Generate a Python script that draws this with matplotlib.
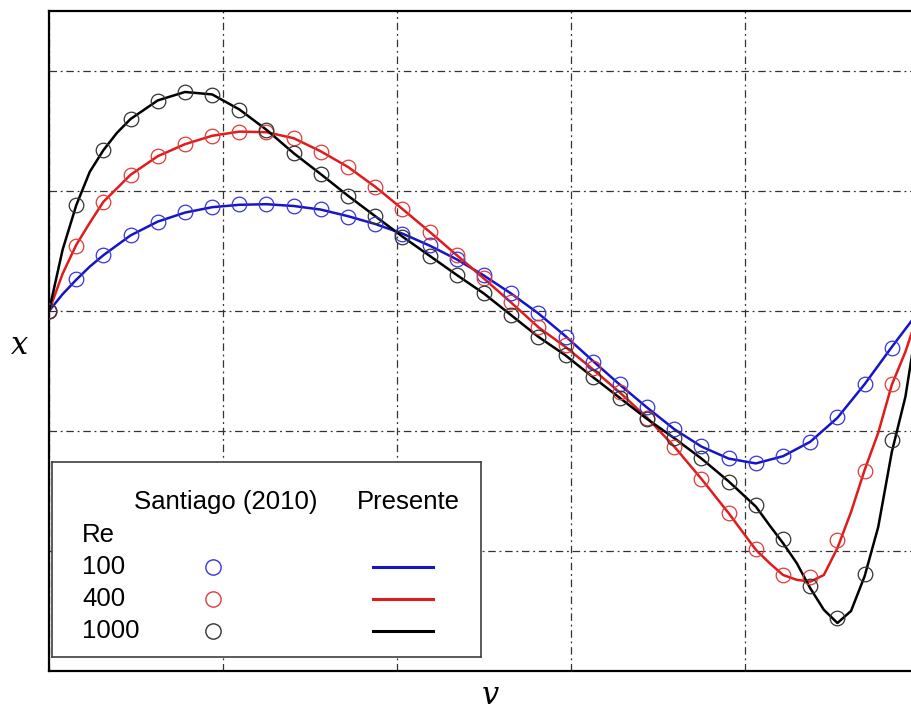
import numpy as np
import matplotlib
matplotlib.use('Agg')
import matplotlib.pyplot as plt

# horizontal positions of the Santiago points (33 stations across the cavity)
x_pts = np.arange(33) / 32.0

# Santiago (2010) reference points
santiago_re100 = [0.0, 0.0533, 0.0933, 0.1267, 0.1488, 0.1645, 0.1738, 0.1778, 0.1778, 0.175,
                  0.1695, 0.1572, 0.145, 0.1283, 0.11, 0.0862, 0.06, 0.0295, -0.0038, -0.0428,
                  -0.0845, -0.122, -0.1608, -0.1972, -0.2258, -0.245, -0.2533, -0.2417, -0.2175,
                  -0.1767, -0.122, -0.0622, 0.0]
santiago_re400 = [0.0, 0.1088, 0.1822, 0.2267, 0.2583, 0.2778, 0.2917, 0.2988, 0.2978, 0.2878,
                  0.2655, 0.2395, 0.2062, 0.1695, 0.1322, 0.0933, 0.0545, 0.0155, -0.0267, -0.0567,
                  -0.0958, -0.135, -0.1783, -0.2267, -0.28, -0.3367, -0.3967, -0.4408, -0.4428,
                  -0.3817, -0.2662, -0.1222, 0.0]
santiago_re1000 = [0.0, 0.1767, 0.2683, 0.32, 0.3505, 0.3645, 0.36, 0.335, 0.3017, 0.2628,
                   0.2278, 0.1917, 0.1583, 0.1238, 0.0917, 0.06, 0.0295, -0.0067, -0.0428, -0.0733,
                   -0.1095, -0.145, -0.18, -0.2117, -0.2458, -0.2842, -0.3233, -0.3808, -0.4583,
                   -0.5117, -0.4383, -0.215, 0.0]

# present results (solid lines), x given in 64ths of the cavity width
present_re100_x = np.array([0, 1, 2, 3, 4, 6, 8, 10, 12, 14, 16, 18, 20, 22, 24, 26, 28, 30, 32,
                            34, 36, 38, 40, 42, 44, 46, 48, 50, 52, 54, 56, 58, 60, 62, 64]) / 64
present_re100 = [0.0, 0.028, 0.052, 0.074, 0.093, 0.126, 0.149, 0.164, 0.173, 0.177,
                 0.178, 0.175, 0.169, 0.158, 0.145, 0.129, 0.109, 0.086, 0.059, 0.029,
                 -0.004, -0.042, -0.083, -0.123, -0.161, -0.197, -0.226, -0.246, -0.254,
                 -0.242, -0.218, -0.178, -0.122, -0.060, 0.0]

present_re400_x = np.array([0, 1, 2, 3, 4, 6, 8, 10, 12, 14, 16, 18, 20, 22, 24, 26, 28, 30, 32,
                            34, 36, 38, 40, 42, 44, 46, 48, 50, 52, 53, 54, 55, 56, 57, 58, 59,
                            60, 61, 62, 63, 64]) / 64
present_re400 = [0.0, 0.062, 0.110, 0.147, 0.182, 0.227, 0.258, 0.278, 0.292, 0.299,
                 0.298, 0.288, 0.266, 0.240, 0.207, 0.170, 0.132, 0.093, 0.054, 0.014,
                 -0.027, -0.060, -0.097, -0.136, -0.178, -0.226, -0.280, -0.337, -0.398,
                 -0.420, -0.440, -0.448, -0.451, -0.440, -0.395, -0.335, -0.265, -0.203,
                 -0.123, -0.068, 0.0]

present_re1000_x = np.array([0, 1, 2, 3, 4, 5, 6, 8, 10, 12, 14, 16, 18, 20, 22, 24, 26, 28, 30,
                             32, 34, 36, 38, 40, 42, 44, 46, 48, 50, 52, 53, 54, 55, 56, 57, 58,
                             59, 60, 61, 62, 63, 64]) / 64
present_re1000 = [0.0, 0.102, 0.176, 0.232, 0.268, 0.297, 0.320, 0.351, 0.365, 0.361,
                  0.336, 0.302, 0.263, 0.228, 0.192, 0.158, 0.124, 0.092, 0.060, 0.029,
                  -0.007, -0.043, -0.074, -0.110, -0.145, -0.180, -0.212, -0.246, -0.284,
                  -0.326, -0.357, -0.387, -0.420, -0.462, -0.498, -0.520, -0.500, -0.442,
                  -0.360, -0.235, -0.143, 0.0]

re_labels = ['100', '400', '1000']
line_colors = ['#1515c8', '#e01b1b', '#000000']
marker_colors = ['#3535d8', '#e03a3a', '#333333']

fig = plt.figure(figsize=(9.12, 7.12), dpi=100)
ax = fig.add_axes([49 / 912, 41 / 712, 870 / 912, 660 / 712])

santiago = [santiago_re100, santiago_re400, santiago_re1000]
present = [(present_re100_x, present_re100), (present_re400_x, present_re400),
           (present_re1000_x, present_re1000)]
for s, (px, pv), lc, mc in zip(santiago, present, line_colors, marker_colors):
    ax.plot(px, pv, '-', color=lc, lw=1.8, zorder=3)
    ax.plot(x_pts, s, 'o', mfc='none', mec=mc, ms=10.5, mew=0.9, zorder=4)

ax.set_xlim(0, 1)
ax.set_ylim(-0.6, 0.5)
ax.set_xticks(np.arange(0, 1.01, 0.2))
ax.set_yticks(np.arange(-0.6, 0.41, 0.2))
ax.tick_params(length=0, labelbottom=False, labelleft=False)
ax.grid(True, color='0.2', lw=0.9, linestyle=(0, (6, 3, 1.5, 3)))
for sp in ax.spines.values():
    sp.set_linewidth(1.6)

fig.text(20 / 912, 1 - 345 / 712, 'x', fontsize=22, family='DejaVu Serif', style='italic',
         ha='center', va='center')
fig.text(490 / 912, 1 - 696 / 712, 'v', fontsize=22, family='DejaVu Serif', style='italic',
         ha='center', va='center')

# hand-built legend box, coordinates in pixels
lax = fig.add_axes([52 / 912, 1 - 657 / 712, 429 / 912, 195 / 712], zorder=10)
lax.set_xlim(52, 481)
lax.set_ylim(657, 462)
lax.set_xticks([])
lax.set_yticks([])
for sp in lax.spines.values():
    sp.set_linewidth(1.2)
    sp.set_color('0.25')

font = dict(family='Liberation Sans', fontsize=18.5, va='center')
lax.text(226, 502, 'Santiago (2010)', ha='center', **font)
lax.text(408, 502, 'Presente', ha='center', **font)
lax.text(82, 535, 'Re', ha='left', **font)
for k, (lab, lc, mc) in enumerate(zip(re_labels, line_colors, marker_colors)):
    yy = 567 + 32 * k
    lax.text(82, yy, lab, ha='left', **font)
    lax.plot([213], [yy], 'o', mfc='none', mec=mc, ms=11, mew=1.0)
    lax.plot([373, 433], [yy, yy], '-', color=lc, lw=2.2)

fig.savefig('out.png', dpi=100)
